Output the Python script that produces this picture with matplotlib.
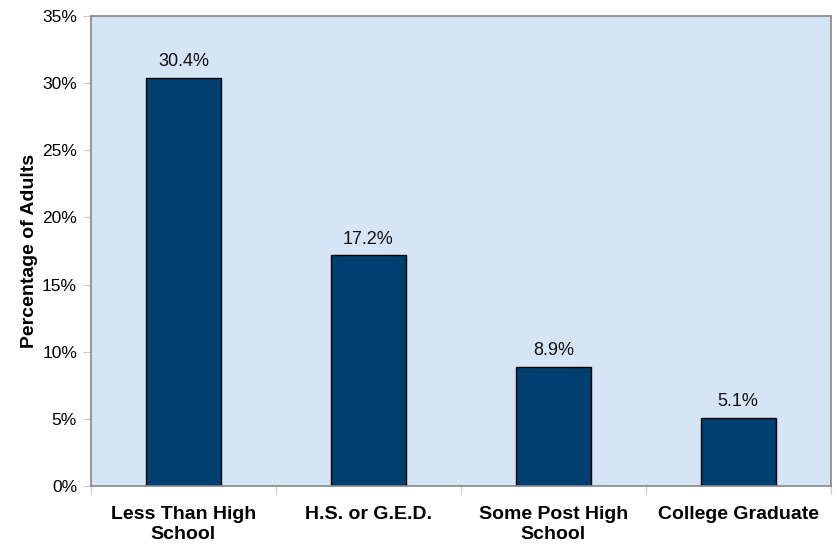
import matplotlib
matplotlib.use("Agg")
import matplotlib.pyplot as plt
import matplotlib.ticker as mticker
import numpy as np

# Share of adults by education level
categories = ["Less Than High\nSchool", "H.S. or G.E.D.", "Some Post High\nSchool", "College Graduate"]
values = [30.4, 17.2, 8.9, 5.1]

plt.rcParams['font.family'] = ['Liberation Sans', 'DejaVu Sans']
plt.rcParams['hatch.color'] = '#eaf2fb'
plt.rcParams['hatch.linewidth'] = 0.8

fig = plt.figure(figsize=(8.34, 5.48), dpi=100)
ax = fig.add_axes([0.109, 0.113, 0.887, 0.858])

# Light blue, finely dotted plot area
ax.set_facecolor('#d5e5f5')
ax.add_patch(plt.Rectangle((0, 0), 1, 1, transform=ax.transAxes, facecolor='none',
                           edgecolor='none', hatch='....', zorder=0))

x = np.arange(len(categories))
ax.bar(x, values, width=0.405, color='#003f6f', edgecolor='black', linewidth=1, zorder=2)

for xi, v in zip(x, values):
    ax.text(xi, v + 0.55, f"{v:.1f}%", ha='center', va='bottom', fontsize=13, color='#111111')

ax.set_xlim(-0.5, len(categories) - 0.5)
ax.set_ylim(0, 35)
ax.yaxis.set_major_locator(mticker.MultipleLocator(5))
ax.yaxis.set_major_formatter(mticker.FuncFormatter(lambda v, _: f"{v:.0f}%"))

# Category labels sit between boundary ticks
ax.set_xticks(np.arange(-0.5, len(categories)), minor=False)
ax.set_xticklabels([])
ax.set_xticks(x, minor=True)
ax.set_xticklabels(categories, minor=True, fontsize=14, fontweight='bold', linespacing=1.25)
ax.tick_params(axis='x', which='minor', length=0, pad=14)
ax.tick_params(axis='x', which='major', length=6, color='#c8c8c8')
ax.tick_params(axis='y', length=6, color='#c8c8c8', labelsize=12.5, pad=4)

ax.set_ylabel("Percentage of Adults", fontsize=14, fontweight='bold', labelpad=3)

for side in ['top', 'right', 'left', 'bottom']:
    ax.spines[side].set_color('#888888')
    ax.spines[side].set_linewidth(1.2)

fig.savefig('out.png', dpi=100)
